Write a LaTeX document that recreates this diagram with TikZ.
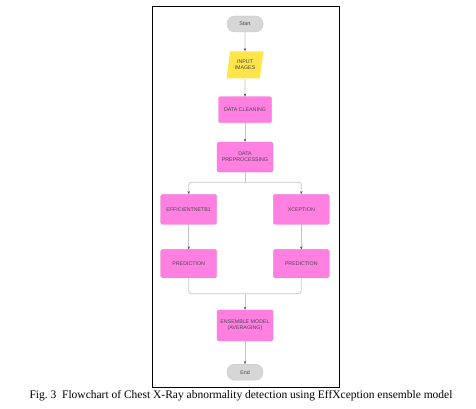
\documentclass[tikz,border=0pt]{standalone}
\usepackage{fontspec}
\setmainfont{Liberation Serif}
\newfontfamily\boxfont{Liberation Sans}
\usetikzlibrary{arrows.meta,positioning,calc,shapes.geometric}
\definecolor{Orchid}{HTML}{FF80E0}
\definecolor{Lemon}{HTML}{FFE44A}
\definecolor{Stone}{HTML}{D6D6D6}
\definecolor{Wire}{HTML}{C4C4C4}
\definecolor{Ink}{HTML}{4A4550}

\begin{document}
\begin{tikzpicture}[x=1pt,y={(0,-1pt)},
every node/.style={font=\boxfont\fontsize{5.3}{6.3}\selectfont,text=Ink,align=center},
proc/.style={draw=Orchid!90!black,line width=0.3pt,rounded corners=1.5pt,fill=Orchid,minimum width=56pt,minimum height=30pt,inner sep=1pt},
term/.style={draw=gray!45,line width=0.3pt,rounded corners=7.5pt,fill=Stone,minimum width=36pt,minimum height=16pt},
io/.style={trapezium,trapezium left angle=76,trapezium right angle=104,trapezium stretches=true,fill=Lemon,minimum width=37pt,minimum height=27pt,inner sep=0pt},
wire/.style={draw=Wire,line width=0.7pt,rounded corners=3pt},
arr/.style={wire,-{Stealth[length=3pt,width=2.4pt,color=black!70]}}]
\useasboundingbox (0,0) rectangle (476,409);
\draw[line width=0.8pt] (152,6) rectangle (339,387);
\node[term] (start) at (245,24) {Start};
\node[io,below=19pt of start] (input) {INPUT\\IMAGES};
\node[proc,below=18pt of input,minimum width=53pt,minimum height=26pt] (clean) {DATA CLEANING};
\node[proc,below=19pt of clean] (prep) {DATA\\PREPROCESSING};
\node[proc,below left=22pt and 0pt of prep] (effnet) {EFFICIENTNETB1};
\node[proc,below right=22pt and 0pt of prep] (xcep) {XCEPTION};
\node[proc,below=25pt of effnet,minimum height=28pt] (predl) {PREDICTION};
\node[proc,below=25pt of xcep,minimum height=28pt] (predr) {PREDICTION};
\node[proc,below right=32pt and 0pt of predl,minimum height=31pt] (ens) {ENSEMBLE MODEL\\(AVERAGING)};
\node[term,below=23pt of ens] (stop) {End};
\coordinate (fork) at ($(prep.south)+(0,10)$);
\coordinate (join) at ($(predl.south -| ens)+(0,16)$);
\draw[arr] (start)--(input);
\draw[arr] (input)--(clean);
\draw[arr] (clean)--(prep);
\draw[wire] (prep.south)--(fork);
\draw[arr] (fork)-|(effnet.north);
\draw[arr] (fork)-|(xcep.north);
\draw[arr] (effnet)--(predl);
\draw[arr] (xcep)--(predr);
\draw[wire] (predl.south)|-(join);
\draw[wire] (predr.south)|-(join);
\draw[arr] (join)--(ens.north);
\draw[arr] (ens)--(stop);
\node[font=\fontsize{11.5}{13}\selectfont,text=black] (caption) at (241,396) {Fig.~3\ \ Flowchart of Chest X-Ray abnormality detection using EffXception ensemble model};
\end{tikzpicture}
\end{document}
